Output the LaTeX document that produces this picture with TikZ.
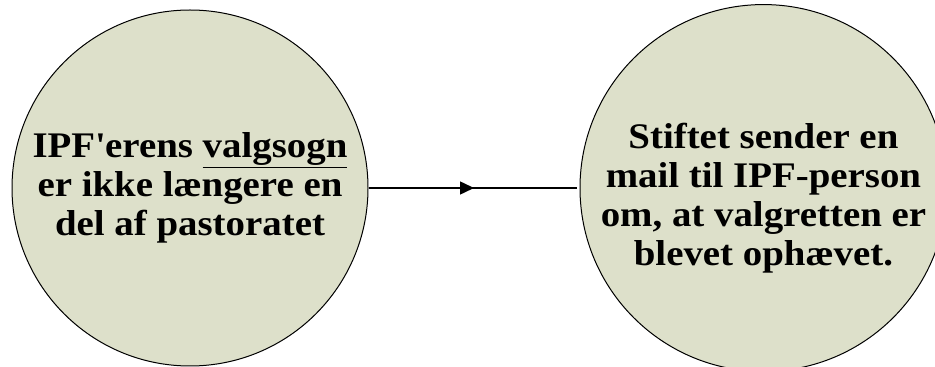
\documentclass[tikz,border=0pt]{standalone}
\usepackage{fontspec}
\setmainfont{Liberation Serif}[FakeStretch=1.08]
\usetikzlibrary{arrows.meta, positioning, decorations.markings}
\definecolor{sagefill}{RGB}{221,224,202}

\begin{document}
\begin{tikzpicture}[
        % Estilo para los pasos
        stepcircle/.style={
                circle,
                draw=black,
                line width=1pt,
                fill=sagefill,
                inner sep=0pt,
                minimum size=356pt,
                align=center,
                font=\bfseries\fontsize{36}{39}\selectfont
            },
        % Conector con punta en el medio
        midarrow/.style={
                line width=1.5pt,
                shorten >=3pt,
                postaction={decorate},
                decoration={markings,
                        mark=at position 0.5 with {\arrow{Triangle[length=14pt, width=13pt]}}}
            }
    ]

    \useasboundingbox (0,0) rectangle (935pt,367pt);

    % PASO 1
    \node[stepcircle] (valgsogn) at (190pt,179pt)
        {IPF\textquotesingle erens \underline{valgsogn}\\er ikke længere en\\del af pastoratet};

    % PASO 2
    \node[stepcircle, right=211pt of valgsogn] (stiftet)
        {\rule{0pt}{46pt}Stiftet sender en\\mail til IPF-person\\om, at valgretten er\\blevet ophævet.};

    % Conector
    \draw[midarrow] (valgsogn) -- (stiftet);

\end{tikzpicture}
\end{document}
